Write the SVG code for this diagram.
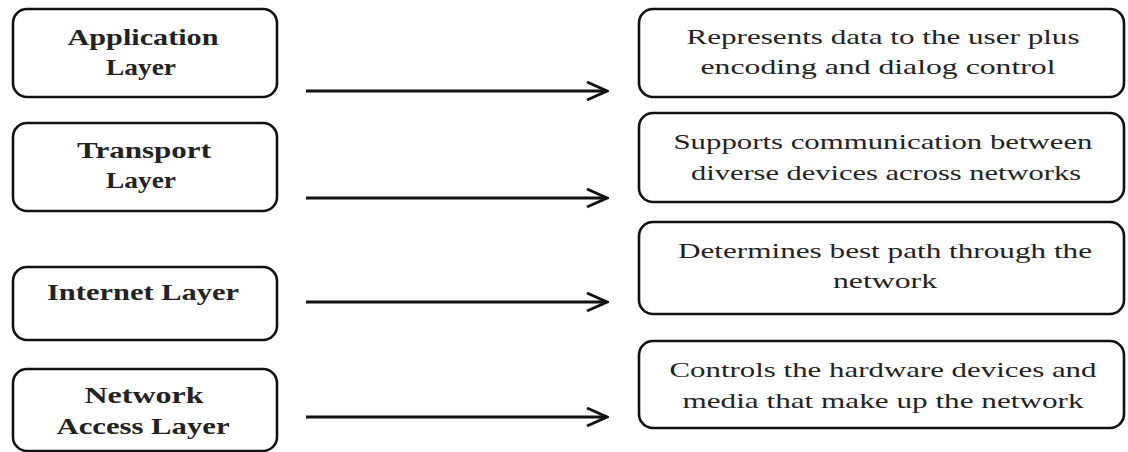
<svg xmlns="http://www.w3.org/2000/svg" width="1128" height="452" viewBox="0 0 1128 452">
<defs>
<style>
.box{fill:#fff;stroke:#111;stroke-width:2.6}
.lt{font-family:'Liberation Serif','Times New Roman',Tinos,serif;font-weight:bold;font-size:24px;fill:#222;text-anchor:middle}
.rt{font-family:'Liberation Serif','Times New Roman',Tinos,serif;font-size:22px;fill:#222;text-anchor:middle}
.arr{stroke:#111;stroke-width:3;fill:none}
</style>
<marker id="ah" markerUnits="userSpaceOnUse" viewBox="-2 -2 24 22" markerWidth="24" markerHeight="22" refX="20" refY="9" orient="auto">
<path d="M0,0 L20,9 L0,18" fill="none" stroke="#111" stroke-width="3"/>
</marker>
</defs>
<rect width="1128" height="452" fill="#fff"/>

<g id="app-layer">
<rect class="box" x="13" y="9" width="264" height="88" rx="14"/>
<text class="lt" x="143" y="45" textLength="151" lengthAdjust="spacingAndGlyphs">Application</text>
<text class="lt" x="141" y="75" textLength="70" lengthAdjust="spacingAndGlyphs">Layer</text>
</g>
<g id="transport-layer">
<rect class="box" x="13" y="123" width="264" height="88" rx="14"/>
<text class="lt" x="144" y="158" textLength="134" lengthAdjust="spacingAndGlyphs">Transport</text>
<text class="lt" x="141" y="188" textLength="70" lengthAdjust="spacingAndGlyphs">Layer</text>
</g>
<g id="internet-layer">
<rect class="box" x="13" y="267" width="264" height="73" rx="14"/>
<text class="lt" x="143" y="300" textLength="192" lengthAdjust="spacingAndGlyphs">Internet Layer</text>
</g>
<g id="network-access-layer">
<rect class="box" x="13" y="369" width="264" height="82" rx="14"/>
<text class="lt" x="144" y="403" textLength="119" lengthAdjust="spacingAndGlyphs">Network</text>
<text class="lt" x="143" y="434" textLength="173" lengthAdjust="spacingAndGlyphs">Access Layer</text>
</g>

<g id="desc-app">
<rect class="box" x="639" y="9" width="485" height="88" rx="14"/>
<text class="rt" x="883" y="44" textLength="393" lengthAdjust="spacingAndGlyphs">Represents data to the user plus</text>
<text class="rt" x="878" y="74" textLength="355" lengthAdjust="spacingAndGlyphs">encoding and dialog control</text>
</g>
<g id="desc-transport">
<rect class="box" x="639" y="113" width="485" height="89" rx="14"/>
<text class="rt" x="883" y="149" textLength="419" lengthAdjust="spacingAndGlyphs">Supports communication between</text>
<text class="rt" x="886" y="180" textLength="390" lengthAdjust="spacingAndGlyphs">diverse devices across networks</text>
</g>
<g id="desc-internet">
<rect class="box" x="639" y="222" width="485" height="92" rx="14"/>
<text class="rt" x="885" y="258" textLength="414" lengthAdjust="spacingAndGlyphs">Determines best path through the</text>
<text class="rt" x="885" y="288" textLength="104" lengthAdjust="spacingAndGlyphs">network</text>
</g>
<g id="desc-network-access">
<rect class="box" x="639" y="341" width="485" height="87" rx="14"/>
<text class="rt" x="883" y="377" textLength="427" lengthAdjust="spacingAndGlyphs">Controls the hardware devices and</text>
<text class="rt" x="883" y="408" textLength="401" lengthAdjust="spacingAndGlyphs">media that make up the network</text>
</g>

<g id="connectors">
<line class="arr" x1="306" y1="91" x2="607" y2="91" marker-end="url(#ah)"/>
<line class="arr" x1="306" y1="198" x2="607" y2="198" marker-end="url(#ah)"/>
<line class="arr" x1="306" y1="302" x2="607" y2="302" marker-end="url(#ah)"/>
<line class="arr" x1="306" y1="417" x2="607" y2="417" marker-end="url(#ah)"/>
</g>
</svg>
